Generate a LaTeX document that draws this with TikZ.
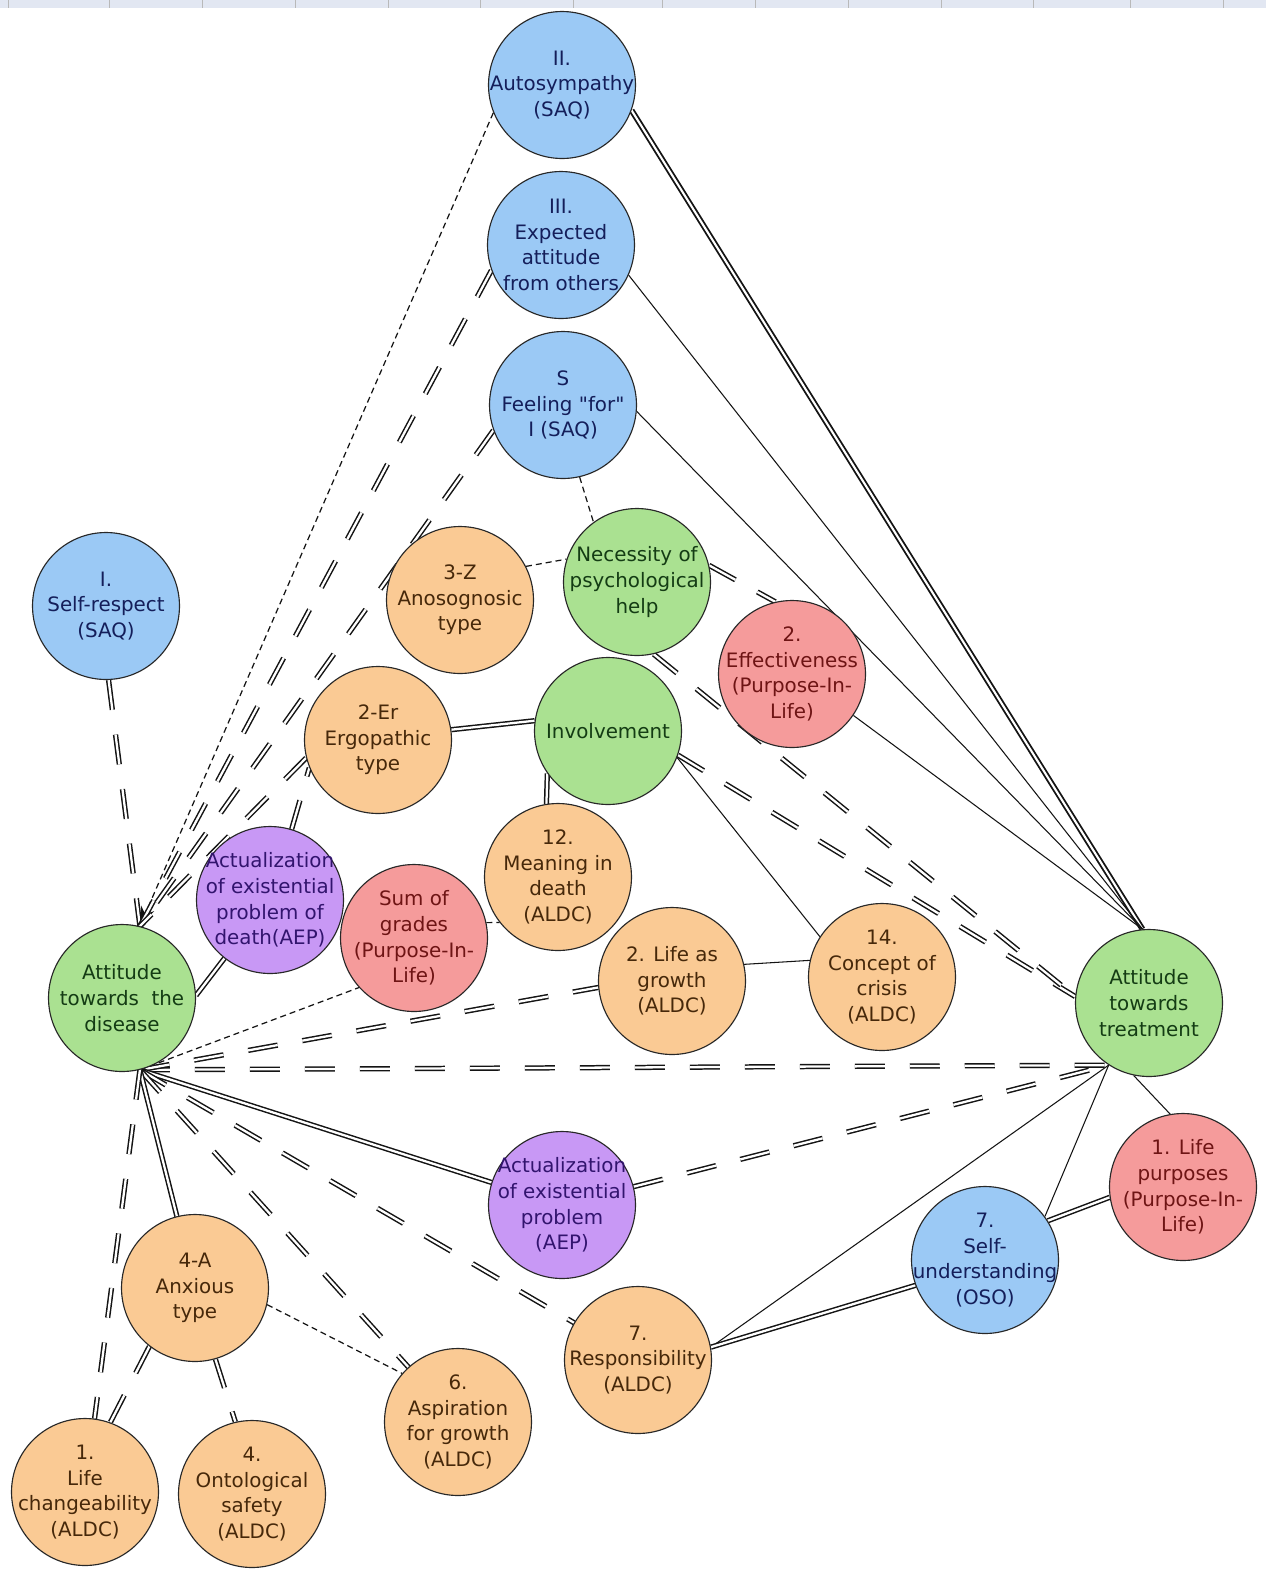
\documentclass[tikz,border=0pt]{standalone}
\usepackage{fontspec}
\setmainfont{DejaVu Sans}[Ligatures=TeXOff]
\usetikzlibrary{arrows.meta}
\definecolor{cblue}{RGB}{155,201,245}
\definecolor{cgreen}{RGB}{170,225,145}
\definecolor{corange}{RGB}{250,202,148}
\definecolor{cpink}{RGB}{245,155,155}
\definecolor{cpurple}{RGB}{200,152,245}
\definecolor{tblue}{RGB}{20,30,90}
\definecolor{tgreen}{RGB}{20,60,20}
\definecolor{torange}{RGB}{70,40,10}
\definecolor{tpink}{RGB}{110,20,20}
\definecolor{tpurple}{RGB}{50,20,110}
\definecolor{lc}{RGB}{20,20,20}
\definecolor{stripc}{RGB}{226,231,242}
\pgfdeclarelayer{bg}
\pgfsetlayers{bg,main}
\tikzset{
 nd/.style={circle, draw={rgb,255:red,40;green,40;blue,40}, line width=0.65pt, minimum size=2.94cm, inner sep=0pt},
 tx/.style={align=center, inner sep=0pt, font=\fontsize{11.3}{14.6}\selectfont},
 nblue/.style={nd, fill=cblue, label={[tx, text=tblue]center:{#1}}},
 ngreen/.style={nd, fill=cgreen, label={[tx, text=tgreen]center:{#1}}},
 norange/.style={nd, fill=corange, label={[tx, text=torange]center:{#1}}},
 npink/.style={nd, fill=cpink, label={[tx, text=tpink]center:{#1}}},
 npurple/.style={nd, fill=cpurple, label={[tx, text=tpurple]center:{#1}}},
 dbl/.style={draw=lc, line width=0.85pt, double=white, double distance=1.3pt},
 dblthick/.style={draw=lc, line width=1.05pt, double=white, double distance=1.2pt},
 dbldash/.style={dbl, dash pattern=on 0.6cm off 0.5cm},
 dots/.style={draw=lc, line width=0.7pt, dash pattern=on 0.12cm off 0.08cm},
 sline/.style={draw=lc, line width=0.6pt},
}
\begin{document}
\begin{tikzpicture}[x=0.02cm, y=-0.02cm]
\useasboundingbox (0,0) rectangle (1266,1573);

% nodes
\node[nblue={II.\\Autosympathy\\(SAQ)}] (A2) at (562,85) {};
\node[nblue={III.\\Expected\\attitude\\from others}] (A3) at (561,245) {};
\node[nblue={S\\Feeling "for"\\I (SAQ)}] (A4) at (563,405) {};
\node[nblue={I.\\Self-respect\\(SAQ)}] (SR) at (106,606) {};
\node[ngreen={Necessity of\\psychological\\help}] (NP) at (637,582) {};
\node[norange={3-Z\\Anosognosic\\type}] (Z3) at (460,600) {};
\node[npink={2.\\Effectiveness\\(Purpose-In-\\Life)}] (EF) at (792,674) {};
\node[norange={2-Er\\Ergopathic\\type}] (ER) at (378,740) {};
\node[ngreen={Involvement}] (INV) at (608,731) {};
\node[norange={12.\\Meaning in\\death\\(ALDC)}] (MD) at (558,877) {};
\node[npurple={Actualization\\of existential\\problem of\\death(AEP)}] (AD) at (270,900) {};
\node[npink={Sum of\\grades\\(Purpose-In-\\Life)}] (SG) at (414,938) {};
\node[ngreen={Attitude\\towards~ the\\disease}] (D) at (122,998) {};
\node[norange={2. Life as\\growth\\(ALDC)}] (LG) at (672,981) {};
\node[norange={14.\\Concept of\\crisis\\(ALDC)}] (CC) at (882,977) {};
\node[ngreen={Attitude\\towards\\treatment}] (T) at (1149,1003) {};
\node[npurple={Actualization\\of existential\\problem\\(AEP)}] (AL) at (562,1205) {};
\node[npink={1. Life\\purposes\\(Purpose-In-\\Life)}] (LP) at (1183,1187) {};
\node[nblue={7.\\Self-\\understanding\\(OSO)}] (SU) at (985,1260) {};
\node[norange={4-A\\Anxious\\type}] (AX) at (195,1288) {};
\node[norange={7.\\Responsibility\\(ALDC)}] (RS) at (638,1360) {};
\node[norange={6.\\Aspiration\\for growth\\(ALDC)}] (AS) at (458,1422) {};
\node[norange={1.\\Life\\changeability\\(ALDC)}] (LC) at (85,1492) {};
\node[norange={4.\\Ontological\\safety\\(ALDC)}] (OS) at (252,1494) {};

\begin{pgfonlayer}{bg}
\fill[white] (0,0) rectangle (1266,1573);
\fill[stripc] (0,0) rectangle (1266,8);
\foreach \xx in {8,109,202,295,388,480,573,662,755,848,941,1033,1130,1223}
  \draw[gray!55, line width=0.4pt] (\xx,0) -- (\xx,8);
% into the top of D
\draw[dbldash] (SR.-88) -- (D.76);
\draw[dots, -{Stealth[length=11pt,width=8pt]}] (A2.202) -- (D.76);
\draw[dbldash] (A3.200) -- (D.76);
\draw[dbldash] (A4.200) -- (D.76);
\draw[dbldash] (ER.194) -- (D.76);
\draw[dbldash] (AD.73) -- (ER.202);
\draw[dbl] (D.2) -- (AD.232);
% middle
\draw[dbl] (ER.8) -- (INV.172);
\draw[dbl] (INV.215) -- (MD.99);
\draw[sline] (LG.13) -- (CC.167);
\draw[sline] (INV.-21) -- (CC.147);
\draw[dbldash] (INV.-19) -- (T.175);
\draw[dbldash] (NP.-77) -- (T.175);
\draw[dbldash] (NP.13) -- (EF.103);
\draw[dots] (Z3.27) -- (NP.162);
\draw[dots] (A4.283) -- (NP.126);
% into the top of T
\draw[dblthick] (A2.-20) -- (T.95);
\draw[sline] (A3.-24) -- (T.95);
\draw[sline] (A4.-5) -- (T.95);
\draw[sline] (EF.-34) -- (T.95);
% from the bottom of D
\draw[dbldash] (D.-76) -- (T.237);
\draw[dbldash] (D.-76) -- (LG.185);
\draw[dots] (D.-76) -- (SG.222);
\draw[dots] (SG.12) -- (MD.218);
\draw[dbl] (D.-76) -- (AL);
\draw[dbldash] (D.-76) -- (RS);
\draw[dbldash] (D.-76) -- (AS);
\draw[dbl] (D.-76) -- (AX);
\draw[dbldash] (D.-76) -- (LC);
% lower right
\draw[dbldash] (AL) -- (T.237);
\draw[sline] (RS.10) -- (T.237);
\draw[dbl] (RS.10) -- (SU.200);
\draw[sline] (SU.36) -- (T.237);
\draw[dbl] (SU.32) -- (LP.188);
\draw[sline] (T.258) -- (LP.100);
% lower left
\draw[dbldash] (AX.232) -- (LC.70);
\draw[dbldash] (AX.286) -- (OS.103);
\draw[dots] (AX.-13) -- (AS.139);
\end{pgfonlayer}
\end{tikzpicture}
\end{document}
